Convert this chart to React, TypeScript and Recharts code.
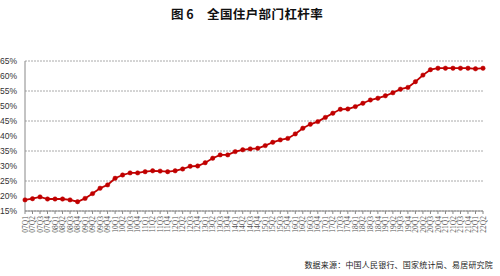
import { LineChart, Line, XAxis, YAxis, CartesianGrid } from 'recharts'

const quarters = [
  '07Q1', '07Q2', '07Q3', '07Q4', '08Q1', '08Q2', '08Q3', '08Q4',
  '09Q1', '09Q2', '09Q3', '09Q4', '10Q1', '10Q2', '10Q3', '10Q4',
  '11Q1', '11Q2', '11Q3', '11Q4', '12Q1', '12Q2', '12Q3', '12Q4',
  '13Q1', '13Q2', '13Q3', '13Q4', '14Q1', '14Q2', '14Q3', '14Q4',
  '15Q1', '15Q2', '15Q3', '15Q4', '16Q1', '16Q2', '16Q3', '16Q4',
  '17Q1', '17Q2', '17Q3', '17Q4', '18Q1', '18Q2', '18Q3', '18Q4',
  '19Q1', '19Q2', '19Q3', '19Q4', '20Q1', '20Q2', '20Q3', '20Q4',
  '21Q1', '21Q2', '21Q3', '21Q4', '22Q1', '22Q2',
]

const leverage = [
  18.7, 19.1, 19.7, 19.0, 19.0, 19.0, 18.7, 18.1,
  19.2, 20.8, 22.6, 23.7, 25.9, 27.0, 27.7, 27.7,
  28.1, 28.4, 28.3, 28.1, 28.4, 29.0, 29.9, 30.0,
  31.1, 32.6, 33.7, 33.7, 34.8, 35.4, 35.7, 35.9,
  36.8, 37.9, 38.7, 39.2, 40.7, 42.6, 43.9, 44.8,
  46.2, 47.6, 48.9, 49.0, 49.8, 50.9, 52.0, 52.6,
  53.4, 54.4, 55.6, 56.2, 58.1, 60.3, 62.1, 62.6,
  62.6, 62.6, 62.6, 62.6, 62.4, 62.6,
]

const yTicks = [15, 20, 25, 30, 35, 40, 45, 50, 55, 60, 65]

const data = quarters.map((q, i) => ({ q, v: leverage[i] }))

const QuarterTick = ({ x, y, payload }: any) => (
  <text
    x={x}
    y={y}
    transform={`rotate(-90 ${x} ${y})`}
    textAnchor="end"
    dy="0.35em"
    fontSize={7.5}
    fontFamily="Liberation Serif"
    fill="#555"
  >
    {payload.value}
  </text>
)

const titleStyle = {
  position: 'absolute' as const, top: 7, fontFamily: '"Noto Sans CJK SC"',
  fontWeight: 'bold' as const, fontSize: 12.5, color: '#111', lineHeight: '14px',
}

export default function App() {
  return (
    <div style={{ position: 'absolute', left: 0, top: 0, width: 500, height: 276, background: '#fff' }}>
      <div style={{ ...titleStyle, left: 171 }}>图 6</div>
      <div style={{ ...titleStyle, left: 207, letterSpacing: 0.4 }}>全国住户部门杠杆率</div>
      <LineChart width={500} height={276} data={data} margin={{ top: 61, right: 17, left: 0, bottom: 40 }}>
        <CartesianGrid vertical={false} stroke="#aaa" strokeDasharray="2 1" />
        <XAxis
          dataKey="q"
          interval={0}
          height={25}
          tick={<QuarterTick />}
          tickSize={3}
          tickMargin={2}
          axisLine={{ stroke: '#888' }}
          tickLine={{ stroke: '#888' }}
        />
        <YAxis
          domain={[15, 65]}
          ticks={yTicks}
          width={25}
          tickFormatter={(v: number) => `${v}%`}
          tick={{ fontSize: 8.5, fill: '#333', fontFamily: 'Liberation Sans' }}
          axisLine={{ stroke: '#888' }}
          tickLine={false}
          tickMargin={2}
        />
        <Line
          type="linear"
          dataKey="v"
          stroke="#C00000"
          strokeWidth={1.8}
          dot={{ r: 2.2, fill: '#C00000', stroke: '#C00000', strokeWidth: 0.5 }}
          isAnimationActive={false}
        />
      </LineChart>
      <div
        style={{
          position: 'absolute', top: 259, right: 7, fontFamily: '"Noto Sans CJK SC"',
          fontSize: 8, color: '#222', letterSpacing: 0.2,
        }}
      >
        数据来源：中国人民银行、国家统计局、易居研究院
      </div>
    </div>
  )
}
